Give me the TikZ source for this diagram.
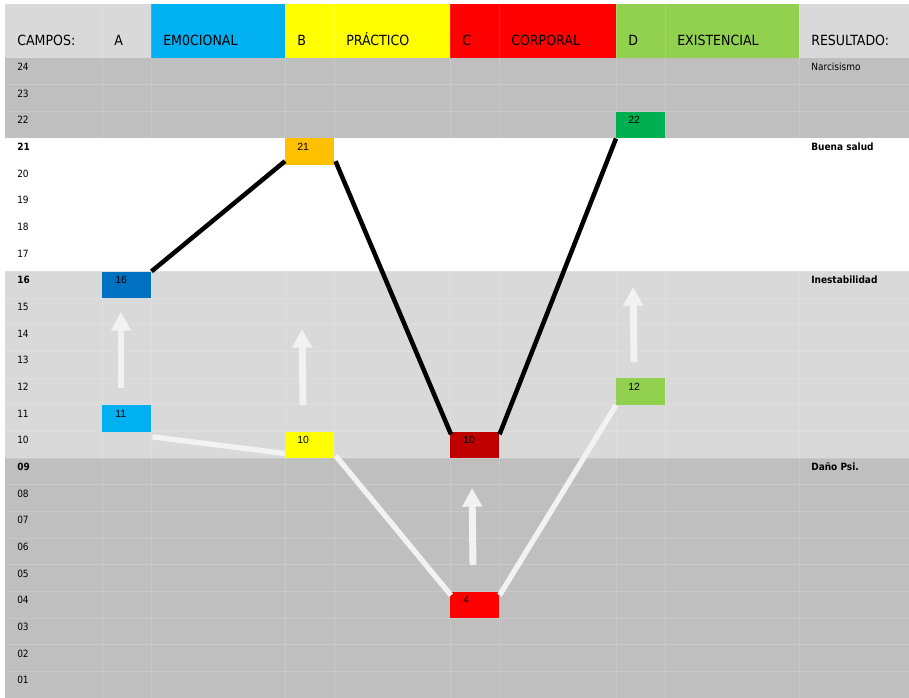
\documentclass[tikz,border=0pt]{standalone}
\usepackage{fontspec}
\setmainfont{DejaVu Sans Condensed}
\newfontfamily\cellfont{Liberation Sans}
\usetikzlibrary{arrows.meta,calc}

\definecolor{hdrgray}{HTML}{D9D9D9}
\definecolor{bandgray}{HTML}{BFBFBF}
\definecolor{bandlight}{HTML}{D9D9D9}
\definecolor{emoblue}{HTML}{00B0F0}
\definecolor{prayellow}{HTML}{FFFF00}
\definecolor{corred}{HTML}{FF0000}
\definecolor{exigreen}{HTML}{92D050}
\definecolor{boxdarkblue}{HTML}{0070C0}
\definecolor{boxorange}{HTML}{FFC000}
\definecolor{boxdarkred}{HTML}{C00000}
\definecolor{boxgreen}{HTML}{00B050}
\definecolor{paleline}{HTML}{F2F2F2}

\tikzset{
  hdrtext/.style={anchor=base west,inner sep=0pt,font=\fontsize{10.5}{12}\selectfont},
  rowtext/.style={anchor=base west,inner sep=0pt,font=\fontsize{7.5}{9}\selectfont},
  valbox/.style={anchor=north west,inner sep=0pt,minimum width=36.75pt,minimum height=20pt},
  valtext/.style={anchor=base west,inner sep=0pt,font=\cellfont\fontsize{7.8}{9}\selectfont},
  gridline/.style={white,opacity=0.14,line width=0.4pt},
  darkline/.style={black,line width=3.4pt},
  paleconn/.style={paleline,line width=4pt},
  uparrow/.style={paleline,line width=5.2pt,-{Triangle[width=14.25pt,length=14pt]}}
}

\begin{document}
\begin{tikzpicture}[x=0.75pt,y=0.75pt,yscale=-1,xscale=1]
\useasboundingbox (0,0) rectangle (909,698);

%Shape: Header cells
\fill[hdrgray] (5,4.5) rectangle (151,58);
\fill[emoblue] (151,4.5) rectangle (285,58);
\fill[prayellow] (285,4.5) rectangle (450,58);
\fill[corred] (450,4.5) rectangle (616,58);
\fill[exigreen] (616,4.5) rectangle (799,58);
\fill[hdrgray] (799,4.5) rectangle (909,58);

%Shape: Bands
\fill[bandgray] (5,58) rectangle (909,138);
\fill[bandlight] (5,271.33) rectangle (909,458);
\fill[bandgray] (5,458) rectangle (909,698);

%Shape: Grid
\foreach \k in {1,...,23}
  \draw[gridline] (5,58+\k*26.667) -- (909,58+\k*26.667);
\foreach \gx in {102,151,285,334,450,499,616,665,799}
  \draw[gridline] (\gx,4.5) -- (\gx,698);

% Text Node: header
\node[hdrtext] (hcampos) at (17,45.5) {CAMPOS:};
\node[hdrtext] (ha) at (114,45.5) {A};
\node[hdrtext] (hemo) at (163,45.5) {EM0CIONAL};
\node[hdrtext] (hb) at (297,45.5) {B};
\node[hdrtext] (hpra) at (346,45.5) {PRÁCTICO};
\node[hdrtext] (hc) at (462,45.5) {C};
\node[hdrtext] (hcor) at (511,45.5) {CORPORAL};
\node[hdrtext] (hd) at (628,45.5) {D};
\node[hdrtext] (hexi) at (677,45.5) {EXISTENCIAL};
\node[hdrtext] (hres) at (811,45.5) {RESULTADO:};

% Text Node: row numbers
\foreach \v in {24,...,1}{
  \pgfmathsetmacro\yb{58+(24-\v)*26.667+12.6}
  \ifnum\v<10 \edef\lbl{0\v}\else\edef\lbl{\v}\fi
  \def\wt{}
  \ifnum\v=21 \def\wt{\bfseries}\fi
  \ifnum\v=16 \def\wt{\bfseries}\fi
  \ifnum\v=9 \def\wt{\bfseries}\fi
  \node[rowtext] (r\v) at (17,\yb) {\wt\lbl};
}

% Text Node: results
\node[rowtext] (rnarc) at (811,70.6) {Narcisismo};
\node[rowtext] (rsalud) at (811,150.6) {\bfseries Buena salud};
\node[rowtext] (rinest) at (811,283.9) {\bfseries Inestabilidad};
\node[rowtext] (rdano) at (811,470.6) {\bfseries Daño Psi.};

%Shape: value boxes
\node[valbox,fill=boxdarkblue] (a16) at (102,271.33) {};
\node[valbox,fill=emoblue] (a11) at (102,404.67) {};
\node[valbox,fill=boxorange] (b21) at (285,138) {};
\node[valbox,fill=prayellow] (b10) at (285,431.33) {};
\node[valbox,fill=boxdarkred] (c10) at (450,431.33) {};
\node[valbox,fill=corred] (c4) at (450,591.33) {};
\node[valbox,fill=boxgreen] (d22) at (616,111.33) {};
\node[valbox,fill=exigreen] (d12) at (616,378) {};

%Shape: connectors
\draw[darkline] (a16.north east) -- ($(b21.south west)+(0,-4)$);
\draw[darkline] ($(b21.south east)+(1,-4)$) -- ($(c10.north west)+(1,3)$);
\draw[darkline] ($(c10.north east)+(0,3)$) -- (d22.south west);
\draw[paleconn] ($(a11.south east)+(1,5)$) -- ($(b10.south west)+(0,-5)$);
\draw[paleconn] ($(b10.south east)+(1,-3)$) -- ($(c4.north west)+(1,4)$);
\draw[paleconn] ($(c4.north east)+(0,4)$) -- (d12.south west);

%Shape: arrows
\draw[uparrow] (121,388) -- (121,312);
\draw[uparrow] (303,405) -- (302,329);
\draw[uparrow] (473,565) -- (472,488);
\draw[uparrow] (634,362) -- (633,287);

% Text Node: values
\node[valtext] (a16n) at ($(a16.north west)+(13,12.6)$) {16};
\node[valtext] (a11n) at ($(a11.north west)+(13,12.6)$) {11};
\node[valtext] (b21n) at ($(b21.north west)+(12,12.6)$) {21};
\node[valtext] (b10n) at ($(b10.north west)+(12,12.6)$) {10};
\node[valtext] (c10n) at ($(c10.north west)+(13,12.6)$) {10};
\node[valtext] (c4n) at ($(c4.north west)+(13,12.6)$) {4};
\node[valtext] (d22n) at ($(d22.north west)+(12,12.6)$) {22};
\node[valtext] (d12n) at ($(d12.north west)+(12,12.6)$) {12};
\end{tikzpicture}
\end{document}
